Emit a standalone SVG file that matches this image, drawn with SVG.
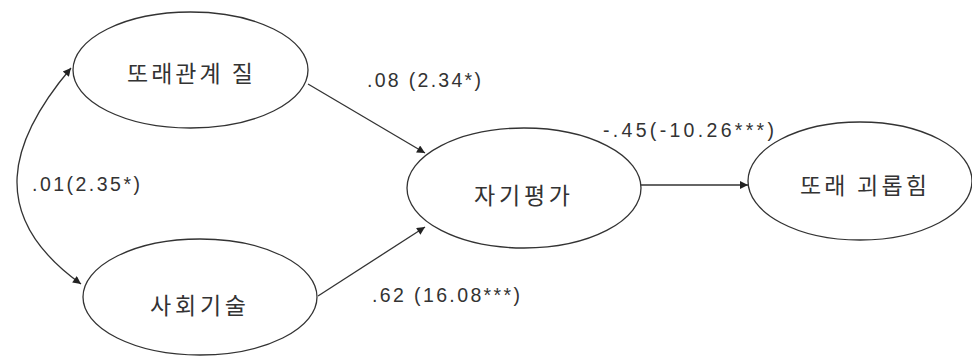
<svg xmlns="http://www.w3.org/2000/svg" width="972" height="356" viewBox="0 0 972 356">
<style>
.node ellipse{fill:#fff;stroke:#333;stroke-width:1.3}
.ko{font-family:"Noto Sans CJK KR","Noto Sans",sans-serif;font-size:23px;fill:#333}
.lbl{font-family:"Liberation Sans",Arial,sans-serif;font-size:19.5px;fill:#333}
.edge{fill:none;stroke:#333;stroke-width:1.3}
</style>
<defs>
<marker id="arr" viewBox="0 0 10 10" refX="10" refY="5" markerWidth="11" markerHeight="8" markerUnits="userSpaceOnUse" orient="auto-start-reverse">
<path d="M0,0 L10,5 L0,10 z" fill="#222"/>
</marker>
</defs>
<rect width="972" height="356" fill="#fff"/>
<g id="connectors">
<path class="edge" d="M308,84 L425,153" marker-end="url(#arr)"/>
<path class="edge" d="M318,296 L425,227" marker-end="url(#arr)"/>
<path class="edge" d="M641,185 L748,185" marker-end="url(#arr)"/>
<path class="edge" d="M71,68 C10,140 -15,215 81,284" marker-start="url(#arr)" marker-end="url(#arr)"/>
</g>
<g id="node-peer-quality" class="node">
<ellipse cx="190.5" cy="70" rx="117.5" ry="58"/>
<text class="ko" x="127" y="82" textLength="126" lengthAdjust="spacing">또래관계 질</text>
</g>
<g id="node-social-skill" class="node">
<ellipse cx="200" cy="297" rx="117" ry="58"/>
<text class="ko" x="150" y="314" textLength="96" lengthAdjust="spacing">사회기술</text>
</g>
<g id="node-self-eval" class="node">
<ellipse cx="524" cy="188" rx="117" ry="60"/>
<text class="ko" x="474" y="204" textLength="96" lengthAdjust="spacing">자기평가</text>
</g>
<g id="node-bullying" class="node">
<ellipse cx="860" cy="181" rx="112" ry="59"/>
<text class="ko" x="800" y="194" textLength="127" lengthAdjust="spacing">또래 괴롭힘</text>
</g>
<g id="labels">
<text class="lbl" x="367" y="87" textLength="114" lengthAdjust="spacing">.08 (2.34*)</text>
<text class="lbl" x="32" y="191" textLength="108" lengthAdjust="spacing">.01(2.35*)</text>
<text class="lbl" x="603" y="137" textLength="171" lengthAdjust="spacing">-.45(-10.26***)</text>
<text class="lbl" x="372" y="302" textLength="148" lengthAdjust="spacing">.62 (16.08***)</text>
</g>
</svg>
